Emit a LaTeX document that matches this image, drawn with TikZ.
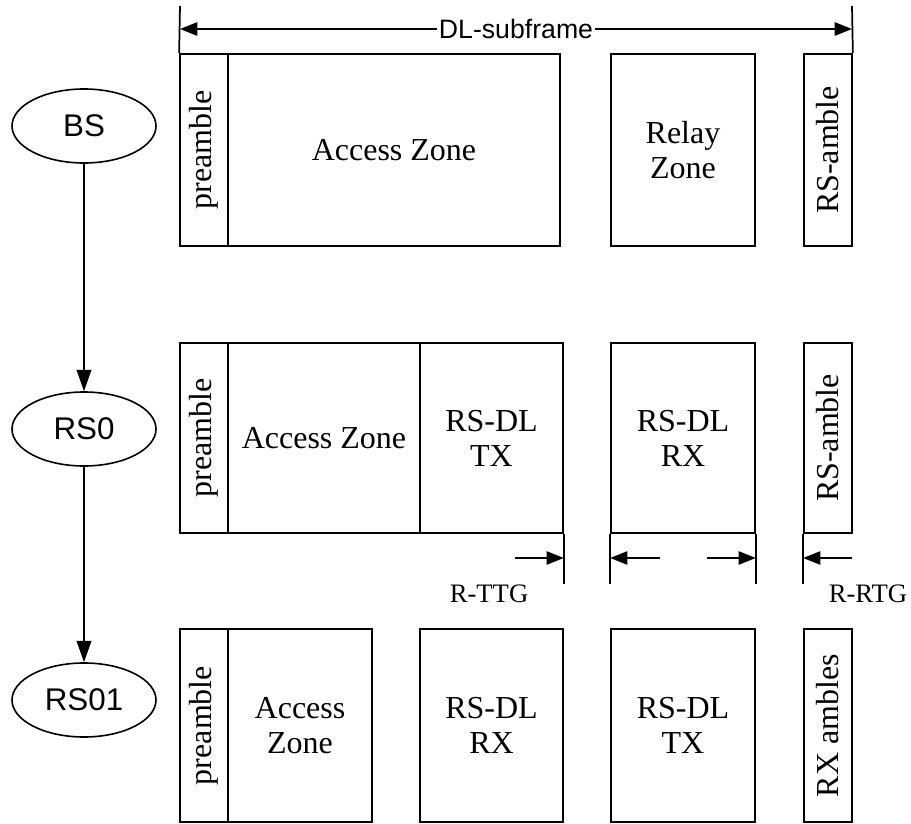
\documentclass[tikz,border=0pt]{standalone}
\usepackage{fontspec}
\setmainfont{Liberation Serif}
\newfontfamily\arialfont{Liberation Sans}
\usepackage{tikz}
\usetikzlibrary{shapes.geometric, arrows.meta}

\def\unitpx{0.75pt}

\tikzset{
  zone/.style={draw, line width=1.3pt, inner sep=0pt, align=center,
    font=\fontsize{24}{26.25}\selectfont},
  amble/.style={zone, rotate=90},
  station/.style={draw, ellipse, line width=1.2pt, inner sep=0pt,
    minimum width=144*\unitpx, minimum height=74*\unitpx,
    font=\arialfont\fontsize{23.5}{25}\selectfont},
  link/.style={-{Triangle[length=16pt,width=11pt]}, line width=1.3pt},
  dim/.style={-{Triangle[length=13pt,width=10pt]}, line width=1.3pt},
  gaplabel/.style={anchor=base, inner sep=0pt, font=\fontsize{20}{22}\selectfont}
}

\begin{document}
\begin{tikzpicture}[x=0.75pt, y=-0.75pt]

      \useasboundingbox (0,0) rectangle (911,824);

      % stations
      \node[station] (bs)   at (84,126) {BS};
      \node[station] (rs0)  at (84,429) {RS0};
      \node[station] (rs01) at (84,700) {RS01};

      \draw[link] (bs) -- (rs0);
      \draw[link] (rs0) -- (rs01);

      % preambles
      \foreach \nm/\y/\h in {bs/150/192, rs0/438/190, rs01/725.5/193}{
        \node[amble, minimum width=\h*\unitpx, minimum height=48*\unitpx] (\nm pre) at (204,\y) {preamble};
      }

      % BS frame
      \node[zone, minimum width=332*\unitpx, minimum height=192*\unitpx] (bsacc)   at (394,150) {Access Zone};
      \node[zone, minimum width=144*\unitpx, minimum height=192*\unitpx] (bsrelay) at (683,150) {Relay\\Zone};
      \node[amble, minimum width=192*\unitpx, minimum height=48*\unitpx] (bsamble) at (828,150) {RS-amble};

      % RS0 frame
      \node[zone, minimum width=192*\unitpx, minimum height=190*\unitpx] (rs0acc)   at (324,438) {Access Zone};
      \node[zone, minimum width=143*\unitpx, minimum height=190*\unitpx] (rs0tx)    at (491.5,438) {RS-DL\\TX};
      \node[zone, minimum width=144*\unitpx, minimum height=190*\unitpx] (rs0rx)    at (683,438) {RS-DL\\RX};
      \node[amble, minimum width=190*\unitpx, minimum height=48*\unitpx] (rs0amble) at (828,438) {RS-amble};

      % RS01 frame
      \node[zone, minimum width=144*\unitpx, minimum height=193*\unitpx] (rs01acc)   at (300,725.5) {Access\\Zone};
      \node[zone, minimum width=143*\unitpx, minimum height=193*\unitpx] (rs01rx)    at (491.5,725.5) {RS-DL\\RX};
      \node[zone, minimum width=144*\unitpx, minimum height=193*\unitpx] (rs01tx)    at (683,725.5) {RS-DL\\TX};
      \node[amble, minimum width=193*\unitpx, minimum height=48*\unitpx] (rs01amble) at (828,725.5) {RX ambles};

      % DL-subframe span
      \coordinate (dlL) at (180,6);
      \coordinate (dlR) at (852,6);
      \draw[line width=1.3pt] (dlL) -- (bspre.north east);
      \draw[line width=1.3pt] (dlR) -- (bsamble.south east);
      \node[inner sep=1.5pt, font=\arialfont\fontsize{20}{22}\selectfont] (dl) at (516,29) {DL-subframe};
      \draw[dim] (dl.west) -- (dl.west -| dlL);
      \draw[dim] (dl.east) -- (dl.east -| dlR);

      % transition gaps
      \foreach \c in {rs0tx.south east, rs0rx.south west, rs0rx.south east, rs0amble.north west}{
        \draw[line width=1.3pt] (\c) -- ++(0,50);
      }
      \coordinate (ttgL) at (515,558);
      \coordinate (ttgR) at (660,558);
      \coordinate (rtgL) at (707,558);
      \coordinate (rtgR) at (852,558);
      \draw[dim] (ttgL) -- (ttgL -| rs0tx.east);
      \draw[dim] (ttgR) -- (ttgR -| rs0rx.west);
      \draw[dim] (rtgL) -- (rtgL -| rs0rx.east);
      \draw[dim] (rtgR) -- (rtgR -| rs0amble.north);

      \node[gaplabel] (ttg) at (489,602) {R-TTG};
      \node[gaplabel] (rtg) at (868,602) {R-RTG};

    \end{tikzpicture}
\end{document}
